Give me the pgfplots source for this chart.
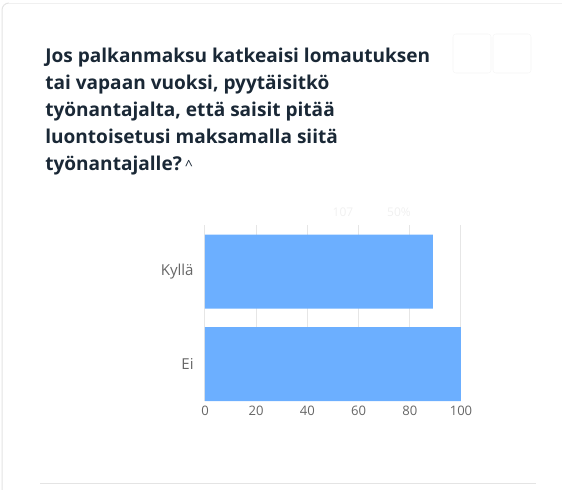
\documentclass[border=0pt]{standalone}
\usepackage{fontspec}
\setmainfont{Open Sans}
\usepackage{pgfplots}
\pgfplotsset{compat=1.18}
\definecolor{barblue}{HTML}{6CAFFF}
\definecolor{titlecol}{HTML}{1A2836}
\definecolor{tickcol}{HTML}{666666}
\definecolor{gridcol}{HTML}{E6E6E6}
\definecolor{faint}{HTML}{F0F0F0}
\definecolor{cardline}{HTML}{E4E4E4}
\begin{document}
\begin{tikzpicture}[x=0.75pt,y=-0.75pt]
  \path[use as bounding box] (0,0) rectangle (562,490);
  % card edge and bottom rule
  \draw[cardline, line width=0.75pt] (2,490) -- (2,10) to[out=90,in=180] (9,3);
  \draw[faint, line width=0.75pt] (9,3) -- (562,3);
  \draw[cardline, line width=0.75pt] (40,483) -- (536,483);
  % faint buttons top right
  \draw[faint!70, rounded corners=2pt] (453,34) rectangle (491,73);
  \draw[faint!70, rounded corners=2pt] (493,34) rectangle (531,73);
  % title
  \begin{scope}[every node/.style={anchor=base west, inner sep=0pt, text=titlecol,
      font=\fontsize{14.3pt}{16pt}\selectfont\bfseries}]
    \node at (45,62) {Jos palkanmaksu katkeaisi lomautuksen};
    \node at (45,89) {tai vapaan vuoksi, pyytäisitkö};
    \node at (45,116) {työnantajalta, että saisit pitää};
    \node at (45,143) {luontoisetusi maksamalla siitä};
    \node at (45,170) {työnantajalle?\,{\mdseries\fontsize{10.5pt}{12pt}\selectfont\textasciicircum}};
  \end{scope}
  % faint stats
  \node[text=faint, font=\fontsize{9pt}{10pt}\selectfont] at (343,212) {107};
  \node[text=faint, font=\fontsize{9pt}{10pt}\selectfont] at (399,212) {50\%};
  \begin{axis}[
      at={(153.75pt,-300.75pt)}, anchor=south west,
      scale only axis, width=192pt, height=131.8pt,
      xbar, bar width=0.8,
      xmin=0, xmax=100, ymin=-0.4, ymax=1.5,
      xtick={0,20,...,100},
      ytick={0,1}, yticklabels={Ei,Kyllä},
      xmajorgrids, grid style={gridcol, line width=0.75pt},
      axis line style={draw=none},
      major tick length=0pt,
      tick label style={text=tickcol},
      xticklabel style={font=\fontsize{9.8pt}{11pt}\selectfont},
      yticklabel style={font=\fontsize{11.3pt}{13pt}\selectfont, xshift=-5pt},
      /pgf/number format/assume math mode=true,
    ]
    \addplot[fill=barblue, draw=none] coordinates {(100,0) (89,1)};
  \end{axis}
\end{tikzpicture}
\end{document}
